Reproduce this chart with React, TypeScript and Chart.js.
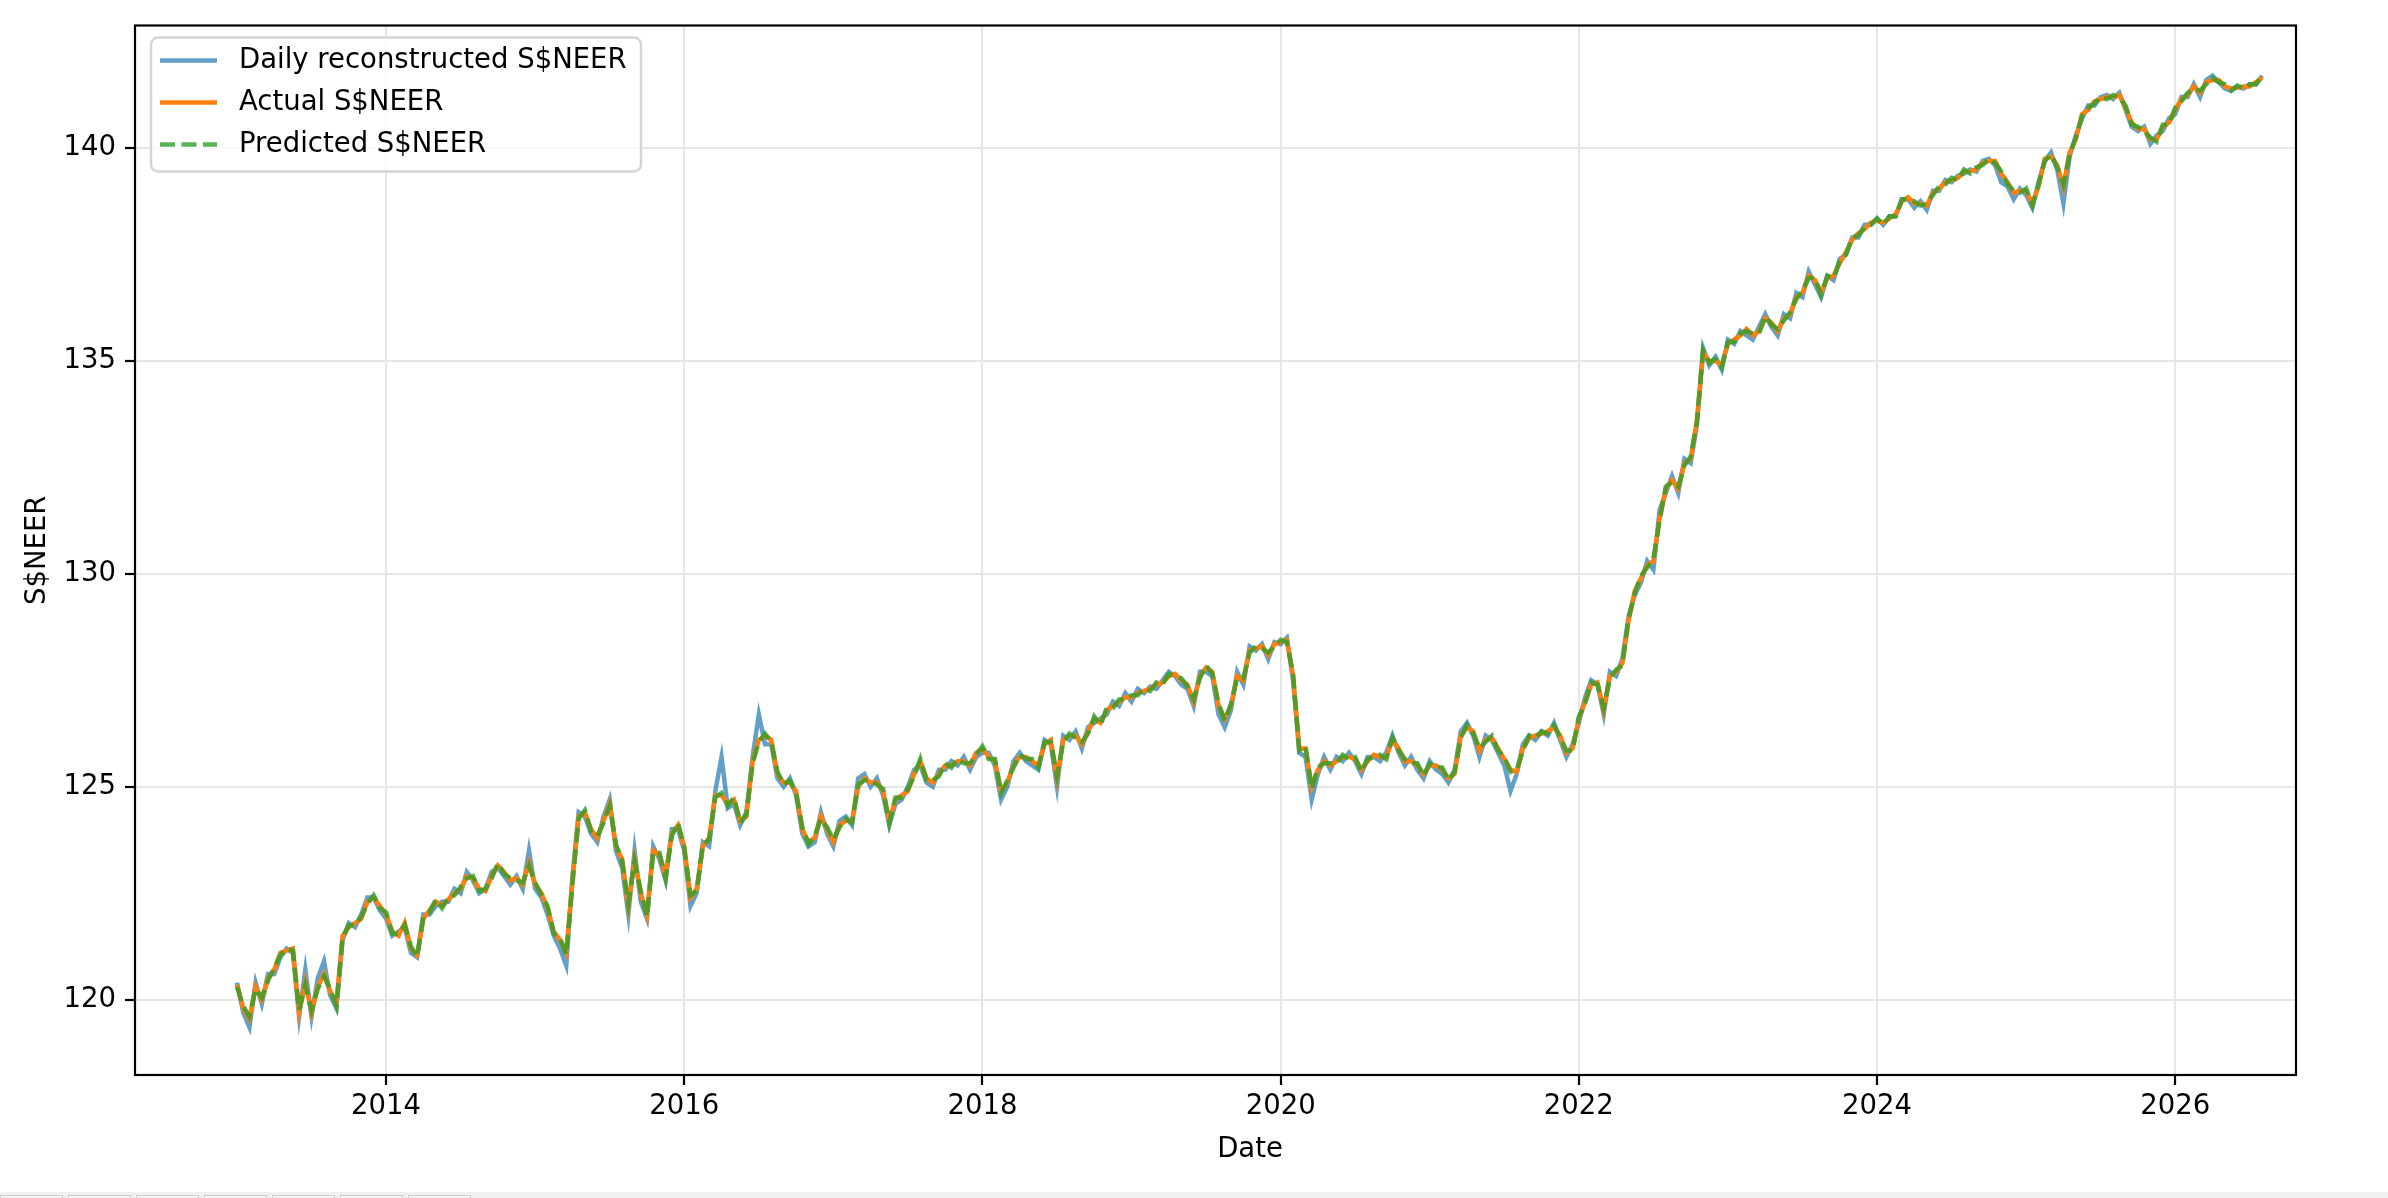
import { useEffect, useRef } from "react";
import Chart from "chart.js/auto";

// readings taken twice a month, starting Jan 2013
const START_YEAR = 2013;
const STEPS_PER_YEAR = 24;

const actual = [
    120.35, 119.8, 119.55, 120.3, 120.0, 120.5, 120.7, 121.1, 121.15, 121.2, 119.7, 120.4, 119.7, 120.3, 120.6, 120.2, 119.9, 121.5, 121.7, 121.8, 121.9, 122.3, 122.4, 122.2,
    122.0, 121.6, 121.5, 121.8, 121.2, 121.05, 121.9, 122.1, 122.3, 122.2, 122.35, 122.5, 122.6, 122.9, 122.85, 122.6, 122.55, 122.9, 123.15, 123.0, 122.8, 122.85, 122.7, 123.2,
    122.7, 122.5, 122.15, 121.6, 121.4, 121.1, 122.8, 124.3, 124.4, 124.0, 123.8, 124.2, 124.6, 123.6, 123.3, 122.2, 123.3, 122.5, 122.0, 123.5, 123.4, 122.9, 123.9, 124.1,
    123.6, 122.4, 122.6, 123.6, 123.8, 124.8, 124.8, 124.6, 124.7, 124.2, 124.3, 125.6, 126.1, 126.2, 126.1, 125.3, 125.1, 125.1, 124.9, 124.0, 123.7, 123.8, 124.3, 124.0,
    123.7, 124.1, 124.2, 124.2, 125.0, 125.2, 125.1, 125.1, 124.9, 124.2, 124.7, 124.8, 124.9, 125.3, 125.6, 125.2, 125.1, 125.3, 125.5, 125.5, 125.6, 125.6, 125.5, 125.8,
    125.9, 125.7, 125.6, 124.9, 125.1, 125.5, 125.7, 125.7, 125.6, 125.5, 126.0, 126.1, 125.2, 126.1, 126.2, 126.2, 126.0, 126.3, 126.6, 126.5, 126.8, 126.9, 127.0, 127.1,
    127.1, 127.2, 127.25, 127.3, 127.4, 127.45, 127.6, 127.65, 127.5, 127.4, 127.0, 127.6, 127.8, 127.7, 126.9, 126.6, 126.9, 127.6, 127.5, 128.2, 128.25, 128.3, 128.1, 128.35,
    128.4, 128.45, 127.6, 125.9, 125.9, 125.0, 125.4, 125.6, 125.5, 125.6, 125.7, 125.7, 125.65, 125.4, 125.6, 125.75, 125.7, 125.7, 126.1, 125.9, 125.6, 125.6, 125.5, 125.3,
    125.5, 125.5, 125.4, 125.2, 125.3, 126.2, 126.4, 126.3, 125.85, 126.1, 126.15, 125.9, 125.65, 125.4, 125.35, 125.9, 126.15, 126.2, 126.25, 126.3, 126.4, 126.2, 125.8, 125.9,
    126.6, 127.0, 127.4, 127.45, 126.8, 127.6, 127.7, 127.9, 128.9, 129.6, 129.9, 130.2, 130.3, 131.3, 132.0, 132.2, 132.0, 132.6, 132.7, 133.6, 135.2, 135.0, 135.0, 134.9,
    135.4, 135.5, 135.6, 135.75, 135.6, 135.7, 136.0, 135.9, 135.7, 136.0, 136.1, 136.5, 136.6, 137.0, 136.9, 136.6, 136.95, 137.0, 137.3, 137.55, 137.85, 138.0, 138.1, 138.25,
    138.3, 138.25, 138.35, 138.45, 138.75, 138.85, 138.7, 138.7, 138.65, 138.95, 139.05, 139.2, 139.25, 139.3, 139.45, 139.45, 139.5, 139.65, 139.7, 139.7, 139.4, 139.2, 138.95, 139.0,
    139.0, 138.7, 139.1, 139.75, 139.8, 139.6, 139.1, 139.9, 140.2, 140.8, 140.9, 141.1, 141.15, 141.2, 141.2, 141.25, 140.95, 140.6, 140.45, 140.45, 140.2, 140.2, 140.5, 140.6,
    140.9, 141.15, 141.25, 141.45, 141.3, 141.55, 141.6, 141.6, 141.45, 141.4, 141.42, 141.45, 141.45, 141.55, 141.65,
];

const predicted = [
    120.3, 119.85, 119.6, 120.25, 120.05, 120.45, 120.75, 121.05, 121.2, 121.15, 119.75, 120.35, 119.75, 120.25, 120.55, 120.25, 119.85, 121.45, 121.75, 121.75, 121.95, 122.25, 122.45, 122.15,
    122.05, 121.55, 121.55, 121.75, 121.25, 121.0, 121.95, 122.05, 122.35, 122.15, 122.4, 122.45, 122.65, 122.85, 122.9, 122.55, 122.6, 122.85, 123.2, 122.95, 122.85, 122.8, 122.75, 123.15,
    122.75, 122.45, 122.2, 121.55, 121.45, 121.05, 122.7, 124.25, 124.45, 123.95, 123.85, 124.15, 124.55, 123.65, 123.25, 122.25, 123.25, 122.55, 121.95, 123.45, 123.45, 122.85, 123.85, 124.15,
    123.55, 122.45, 122.55, 123.65, 123.75, 124.75, 124.85, 124.55, 124.75, 124.15, 124.35, 125.55, 126.05, 126.25, 126.05, 125.35, 125.05, 125.15, 124.85, 124.05, 123.65, 123.85, 124.25, 124.05,
    123.75, 124.05, 124.25, 124.15, 125.05, 125.15, 125.15, 125.05, 124.95, 124.15, 124.75, 124.75, 124.95, 125.25, 125.65, 125.15, 125.15, 125.25, 125.55, 125.45, 125.65, 125.55, 125.55, 125.75,
    125.95, 125.65, 125.65, 124.85, 125.15, 125.45, 125.75, 125.65, 125.65, 125.45, 126.05, 126.05, 125.25, 126.05, 126.25, 126.15, 126.05, 126.25, 126.65, 126.45, 126.85, 126.85, 127.05, 127.05,
    127.15, 127.15, 127.3, 127.25, 127.45, 127.4, 127.65, 127.6, 127.55, 127.35, 127.05, 127.55, 127.85, 127.65, 126.95, 126.55, 126.95, 127.55, 127.55, 128.15, 128.3, 128.25, 128.15, 128.3,
    128.45, 128.4, 127.65, 125.85, 125.95, 124.95, 125.45, 125.55, 125.55, 125.55, 125.75, 125.65, 125.7, 125.35, 125.65, 125.7, 125.75, 125.65, 126.15, 125.85, 125.65, 125.55, 125.55, 125.25,
    125.55, 125.45, 125.45, 125.15, 125.35, 126.15, 126.45, 126.25, 125.9, 126.05, 126.2, 125.85, 125.7, 125.35, 125.4, 125.85, 126.2, 126.15, 126.3, 126.25, 126.45, 126.15, 125.85, 125.85,
    126.65, 126.95, 127.45, 127.4, 126.85, 127.55, 127.75, 127.85, 128.95, 129.55, 129.95, 130.15, 130.35, 131.25, 132.05, 132.15, 132.05, 132.55, 132.75, 133.55, 135.25, 134.95, 135.05, 134.85,
    135.45, 135.45, 135.65, 135.7, 135.65, 135.65, 136.05, 135.85, 135.75, 135.95, 136.15, 136.45, 136.65, 136.95, 136.95, 136.55, 137.0, 136.95, 137.35, 137.5, 137.9, 137.95, 138.15, 138.2,
    138.35, 138.2, 138.4, 138.4, 138.8, 138.8, 138.75, 138.65, 138.7, 138.9, 139.1, 139.15, 139.3, 139.25, 139.5, 139.4, 139.55, 139.6, 139.75, 139.65, 139.45, 139.15, 139.0, 138.95,
    139.05, 138.65, 139.15, 139.7, 139.85, 139.55, 139.15, 139.85, 140.25, 140.75, 140.95, 141.05, 141.2, 141.15, 141.25, 141.2, 141.0, 140.55, 140.5, 140.4, 140.25, 140.15, 140.55, 140.55,
    140.95, 141.1, 141.3, 141.4, 141.35, 141.5, 141.65, 141.55, 141.5, 141.35, 141.47, 141.4, 141.5, 141.5, 141.7,
];

const daily = [
    120.4, 119.7, 119.35, 120.4, 119.9, 120.6, 120.6, 121.0, 121.2, 121.1, 119.6, 120.7, 119.6, 120.5, 120.9, 120.1, 119.8, 121.4, 121.8, 121.7, 122.0, 122.4, 122.4, 122.1,
    121.9, 121.5, 121.6, 121.7, 121.1, 121.0, 122.0, 122.0, 122.2, 122.3, 122.3, 122.6, 122.5, 123.0, 122.8, 122.5, 122.6, 123.0, 123.1, 122.9, 122.7, 122.9, 122.6, 123.5,
    122.6, 122.4, 122.0, 121.5, 121.2, 120.8, 122.9, 124.4, 124.3, 123.9, 123.7, 124.3, 124.7, 123.5, 123.1, 122.0, 123.5, 122.3, 121.9, 123.6, 123.3, 122.8, 124.0, 124.0,
    123.5, 122.2, 122.5, 123.7, 123.6, 124.9, 125.7, 124.5, 124.6, 124.1, 124.4, 125.7, 126.7, 126.0, 126.0, 125.2, 125.0, 125.2, 124.8, 123.9, 123.6, 123.7, 124.4, 123.9,
    123.6, 124.2, 124.3, 124.1, 125.2, 125.3, 125.0, 125.2, 124.8, 124.1, 124.6, 124.7, 125.0, 125.4, 125.5, 125.1, 125.0, 125.4, 125.4, 125.6, 125.5, 125.7, 125.4, 125.7,
    125.8, 125.8, 125.5, 124.7, 125.0, 125.6, 125.8, 125.6, 125.5, 125.4, 126.1, 126.0, 125.0, 126.2, 126.1, 126.3, 125.9, 126.4, 126.5, 126.6, 126.7, 127.0, 126.9, 127.2,
    127.0, 127.3, 127.2, 127.35, 127.3, 127.5, 127.7, 127.6, 127.4, 127.3, 126.9, 127.7, 127.7, 127.6, 126.7, 126.4, 126.8, 127.7, 127.4, 128.3, 128.2, 128.35, 128.0, 128.4,
    128.35, 128.5, 127.5, 125.8, 125.7, 124.7, 125.3, 125.7, 125.4, 125.7, 125.6, 125.8, 125.6, 125.3, 125.7, 125.7, 125.6, 125.8, 126.2, 125.8, 125.5, 125.7, 125.4, 125.2,
    125.6, 125.4, 125.3, 125.1, 125.4, 126.3, 126.5, 126.2, 125.7, 126.2, 126.1, 125.8, 125.5, 124.9, 125.3, 126.0, 126.2, 126.1, 126.3, 126.2, 126.5, 126.1, 125.7, 126.0,
    126.5, 127.1, 127.5, 127.4, 126.7, 127.7, 127.6, 128.0, 129.0, 129.5, 129.8, 130.3, 130.1, 131.5, 131.9, 132.3, 131.9, 132.7, 132.6, 133.5, 135.3, 134.9, 135.1, 134.8,
    135.5, 135.4, 135.7, 135.6, 135.5, 135.8, 136.1, 135.8, 135.6, 136.1, 136.0, 136.6, 136.5, 137.1, 136.8, 136.5, 137.0, 136.9, 137.4, 137.5, 137.9, 137.9, 138.2, 138.2,
    138.35, 138.2, 138.4, 138.4, 138.8, 138.8, 138.6, 138.75, 138.55, 139.0, 139.0, 139.25, 139.2, 139.35, 139.4, 139.5, 139.45, 139.7, 139.75, 139.6, 139.2, 139.1, 138.8, 139.05,
    138.9, 138.6, 139.2, 139.7, 139.9, 139.5, 138.7, 139.8, 140.3, 140.7, 141.0, 141.0, 141.2, 141.25, 141.15, 141.3, 140.9, 140.5, 140.4, 140.5, 140.1, 140.3, 140.4, 140.7,
    140.8, 141.2, 141.2, 141.5, 141.2, 141.6, 141.7, 141.55, 141.4, 141.35, 141.45, 141.4, 141.5, 141.5, 141.7,
];

const xTicks = [2014, 2016, 2018, 2020, 2022, 2024, 2026];
const yTicks = [120, 125, 130, 135, 140];

const dates = actual.map((_, i) => START_YEAR + i / STEPS_PER_YEAR);

const FONT = "'DejaVu Sans', sans-serif";
const FONT_SIZE = 27.5;

// spines, axis titles and the framed legend, drawn matplotlib-style
const framePlugin = {
    id: "frame",
    afterDraw(chart: any) {
        const { ctx, chartArea: a } = chart;
        ctx.save();
        ctx.strokeStyle = "#000";
        ctx.lineWidth = 2.2;
        ctx.strokeRect(a.left, a.top, a.right - a.left, a.bottom - a.top);

        ctx.fillStyle = "#000";
        ctx.font = `${FONT_SIZE}px ${FONT}`;
        ctx.textAlign = "center";
        ctx.textBaseline = "alphabetic";
        ctx.fillText("Date", 1250, 1157);

        ctx.save();
        ctx.translate(38, (a.top + a.bottom) / 2);
        ctx.rotate(-Math.PI / 2);
        ctx.textBaseline = "middle";
        ctx.fillText("S$NEER", 0, 0);
        ctx.restore();

        // legend box
        const bx = a.left + 16, by = a.top + 12, bw = 490, bh = 134, r = 7;
        ctx.beginPath();
        ctx.moveTo(bx + r, by);
        ctx.arcTo(bx + bw, by, bx + bw, by + bh, r);
        ctx.arcTo(bx + bw, by + bh, bx, by + bh, r);
        ctx.arcTo(bx, by + bh, bx, by, r);
        ctx.arcTo(bx, by, bx + bw, by, r);
        ctx.closePath();
        ctx.fillStyle = "rgba(255,255,255,0.8)";
        ctx.fill();
        ctx.strokeStyle = "#d4d4d4";
        ctx.lineWidth = 2.5;
        ctx.stroke();

        const ds = chart.data.datasets;
        ds.forEach((d: any, i: number) => {
            const y = by + 23 + i * 42;
            ctx.beginPath();
            ctx.setLineDash(d.borderDash || []);
            ctx.strokeStyle = d.borderColor;
            ctx.lineWidth = d.borderWidth;
            ctx.moveTo(bx + 9, y);
            ctx.lineTo(bx + 66, y);
            ctx.stroke();
            ctx.setLineDash([]);
            ctx.fillStyle = "#000";
            ctx.textAlign = "left";
            ctx.textBaseline = "middle";
            ctx.fillText(d.label, bx + 88, y);
        });
        ctx.restore();
    },
};

export default function App() {
    const chartRef = useRef<HTMLCanvasElement | null>(null);
    const chartInstanceRef = useRef<Chart | null>(null);

    useEffect(() => {
        if (chartInstanceRef.current) {
            chartInstanceRef.current.destroy();
        }
        if (!chartRef.current) return;

        const ctx = chartRef.current.getContext("2d");
        if (!ctx) return;

        const tickFont = { family: FONT, size: FONT_SIZE };

        chartInstanceRef.current = new Chart(ctx, {
            type: "line",
            data: {
                datasets: [
                    {
                        label: "Daily reconstructed S$NEER",
                        data: dates.map((x, i) => ({ x, y: daily[i] })),
                        borderColor: "rgba(31,119,180,0.7)",
                        borderWidth: 4.5,
                        order: 3,
                    },
                    {
                        label: "Actual S$NEER",
                        data: dates.map((x, i) => ({ x, y: actual[i] })),
                        borderColor: "#ff7f0e",
                        borderWidth: 4.5,
                        order: 2,
                    },
                    {
                        label: "Predicted S$NEER",
                        data: dates.map((x, i) => ({ x, y: predicted[i] })),
                        borderColor: "rgba(44,160,44,0.8)",
                        borderWidth: 4.5,
                        borderDash: [15, 6.5],
                        order: 1,
                    },
                ],
            },
            options: {
                responsive: true,
                maintainAspectRatio: false,
                animation: false,
                layout: { padding: { top: 22, right: 92, left: 0, bottom: 0 } },
                elements: {
                    point: { radius: 0 },
                    line: { tension: 0, fill: false },
                },
                plugins: {
                    legend: { display: false },
                    tooltip: { enabled: false },
                },
                scales: {
                    x: {
                        type: "linear",
                        min: 2012.316,
                        max: 2026.81,
                        afterBuildTicks: (s: any) => {
                            s.ticks = xTicks.map((v) => ({ value: v }));
                        },
                        afterFit: (s: any) => {
                            s.height = 123;
                        },
                        ticks: {
                            color: "#000",
                            font: tickFont,
                            padding: 5,
                            maxRotation: 0,
                            autoSkip: false,
                            callback: (v: any) => String(v),
                        },
                        grid: {
                            color: "#e6e6e6",
                            lineWidth: 2,
                            tickColor: "#000",
                            tickWidth: 2.2,
                            tickLength: 10,
                        },
                        border: { display: false },
                    },
                    y: {
                        type: "linear",
                        min: 118.23,
                        max: 142.88,
                        afterBuildTicks: (s: any) => {
                            s.ticks = yTicks.map((v) => ({ value: v }));
                        },
                        afterFit: (s: any) => {
                            s.width = 135;
                        },
                        ticks: {
                            color: "#000",
                            font: tickFont,
                            padding: 9,
                            autoSkip: false,
                            callback: (v: any) => String(v),
                        },
                        grid: {
                            color: "#e6e6e6",
                            lineWidth: 2,
                            tickColor: "#000",
                            tickWidth: 2.2,
                            tickLength: 10,
                        },
                        border: { display: false },
                    },
                },
            },
            plugins: [framePlugin],
        });

        return () => {
            if (chartInstanceRef.current) {
                chartInstanceRef.current.destroy();
                chartInstanceRef.current = null;
            }
        };
    }, []);

    const tabs = [0, 1, 2, 3, 4, 5, 6];

    return (
        <div style={{ position: "fixed", left: 0, top: 0, width: 2388, height: 1198, background: "#fff" }}>
            <canvas ref={chartRef} />
            <div style={{ position: "absolute", left: 0, bottom: 0, width: "100%", height: 6, background: "#f0f0f0" }}>
                {tabs.map((t) => (
                    <div
                        key={t}
                        style={{
                            position: "absolute",
                            left: t * 68,
                            bottom: 0,
                            width: 61,
                            height: 2,
                            borderTop: "1px solid #cfcfcf",
                            borderLeft: "1px solid #cfcfcf",
                            borderRight: "1px solid #cfcfcf",
                            background: "#f4f4f4",
                        }}
                    />
                ))}
            </div>
        </div>
    );
}
